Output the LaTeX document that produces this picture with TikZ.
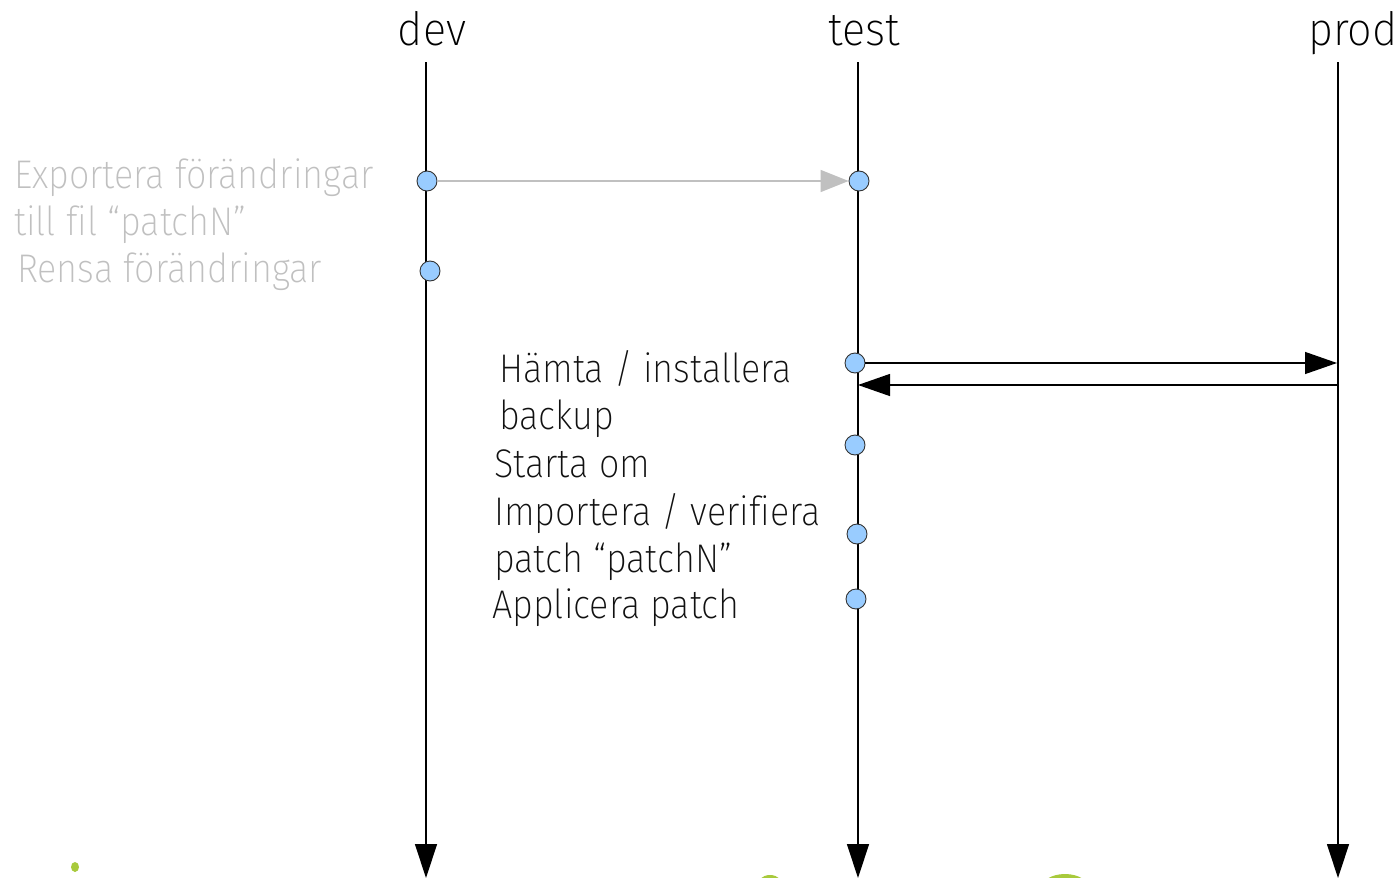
\documentclass[tikz,border=0pt]{standalone}
\usepackage{fontspec}
\usetikzlibrary{arrows.meta}
\newcommand{\pickfont}[1]{%
  \newfontfamily\lbl[FakeStretch=0.9,Ligatures=NoCommon]{#1}%
  \newfontfamily\hdl[FakeStretch=0.94,Ligatures=NoCommon]{#1}}
\IfFontExistsTF{Fira Sans ExtraLight}{\pickfont{Fira Sans ExtraLight}}{%
\IfFontExistsTF{Lato Light}{\pickfont{Lato Light}}{%
\IfFontExistsTF{Open Sans Light}{\pickfont{Open Sans Light}}{%
\IfFontExistsTF{Fira Sans Light}{\pickfont{Fira Sans Light}}{%
\pickfont{Fira Sans}}}}}
\definecolor{dotblue}{RGB}{153,204,255}
\definecolor{dotedge}{RGB}{51,51,51}
\definecolor{greytxt}{RGB}{192,192,192}
\definecolor{greyarrow}{RGB}{192,192,192}
\definecolor{blobgreen}{RGB}{168,202,60}
\definecolor{ink}{RGB}{17,17,17}
\begin{document}
\begin{tikzpicture}[x=1pt,y=-1pt,
  life/.style={line width=1.3pt,draw=black,-{Triangle[length=34pt,width=22pt]}},
  dot/.style={circle,draw=dotedge,fill=dotblue,line width=0.9pt,minimum size=20pt,inner sep=0pt},
  msg/.style={line width=1.3pt,draw=black,-{Triangle[length=32pt,width=22pt]}},
  greymsg/.style={line width=1.5pt,draw=greyarrow,-{Triangle[length=28pt,width=22pt]}},
  head/.style={font=\hdl\fontsize{46}{48}\selectfont,text=black,anchor=base,inner sep=0pt},
  note/.style={font=\lbl\fontsize{40}{47}\selectfont,text=ink,anchor=base west,inner sep=0pt},
  greynote/.style={font=\lbl\fontsize{40}{47}\selectfont,text=greytxt,anchor=base west,inner sep=0pt},
  blob/.style={fill=blobgreen,draw=none}]
\clip (0,0) rectangle (1398,878);
\fill[white] (0,0) rectangle (1398,878);
% background blobs
\fill[blob] (75,867) ellipse [x radius=4, y radius=5];
\fill[blob] (770,888) ellipse [x radius=14, y radius=13];
\fill[blob] (1065,890) ellipse [x radius=25, y radius=16];
% headers
\node[head] (devlabel) at (432,45) {dev};
\node[head] (testlabel) at (864,45) {test};
\node[head] (prodlabel) at (1353,45) {prod};
% lifelines
\coordinate (devtop) at (426,62);
\coordinate (devbot) at (426,878);
\coordinate (testtop) at (858,62);
\coordinate (testbot) at (858,878);
\coordinate (prodtop) at (1338,62);
\coordinate (prodbot) at (1338,878);
\draw[life] (devtop) -- (devbot);
\draw[life] (testtop) -- (testbot);
\draw[life] (prodtop) -- (prodbot);
% dots
\node[dot] (d1) at (427,181) {};
\node[dot] (d2) at (430,271) {};
\node[dot] (t1) at (859,181) {};
\node[dot] (t2) at (855,363) {};
\node[dot] (t3) at (855,445) {};
\node[dot] (t4) at (857,534) {};
\node[dot] (t5) at (856,599) {};
% messages
\coordinate (p2) at (1337,363);
\coordinate (p3) at (1338,385);
\coordinate (tback) at (858,385);
\draw[greymsg] (d1) -- (t1);
\draw[msg] (t2) -- (p2);
\draw[msg] (p3) -- (tback);
% grey notes
\node[greynote] (g1) at (14,188) {Exportera förändringar};
\node[greynote] (g2) at (14,235) {till fil “patchN”};
\node[greynote] (g3) at (17,282) {Rensa förändringar};
% black notes
\node[note] (n1) at (499,382) {Hämta / installera};
\node[note] (n2) at (499,429) {backup};
\node[note] (n3) at (494,477) {Starta om};
\node[note] (n4) at (494,525) {Importera / verifiera};
\node[note] (n5) at (494,572) {patch “patchN”};
\node[note] (n6) at (492,618) {Applicera patch};
\end{tikzpicture}
\end{document}
